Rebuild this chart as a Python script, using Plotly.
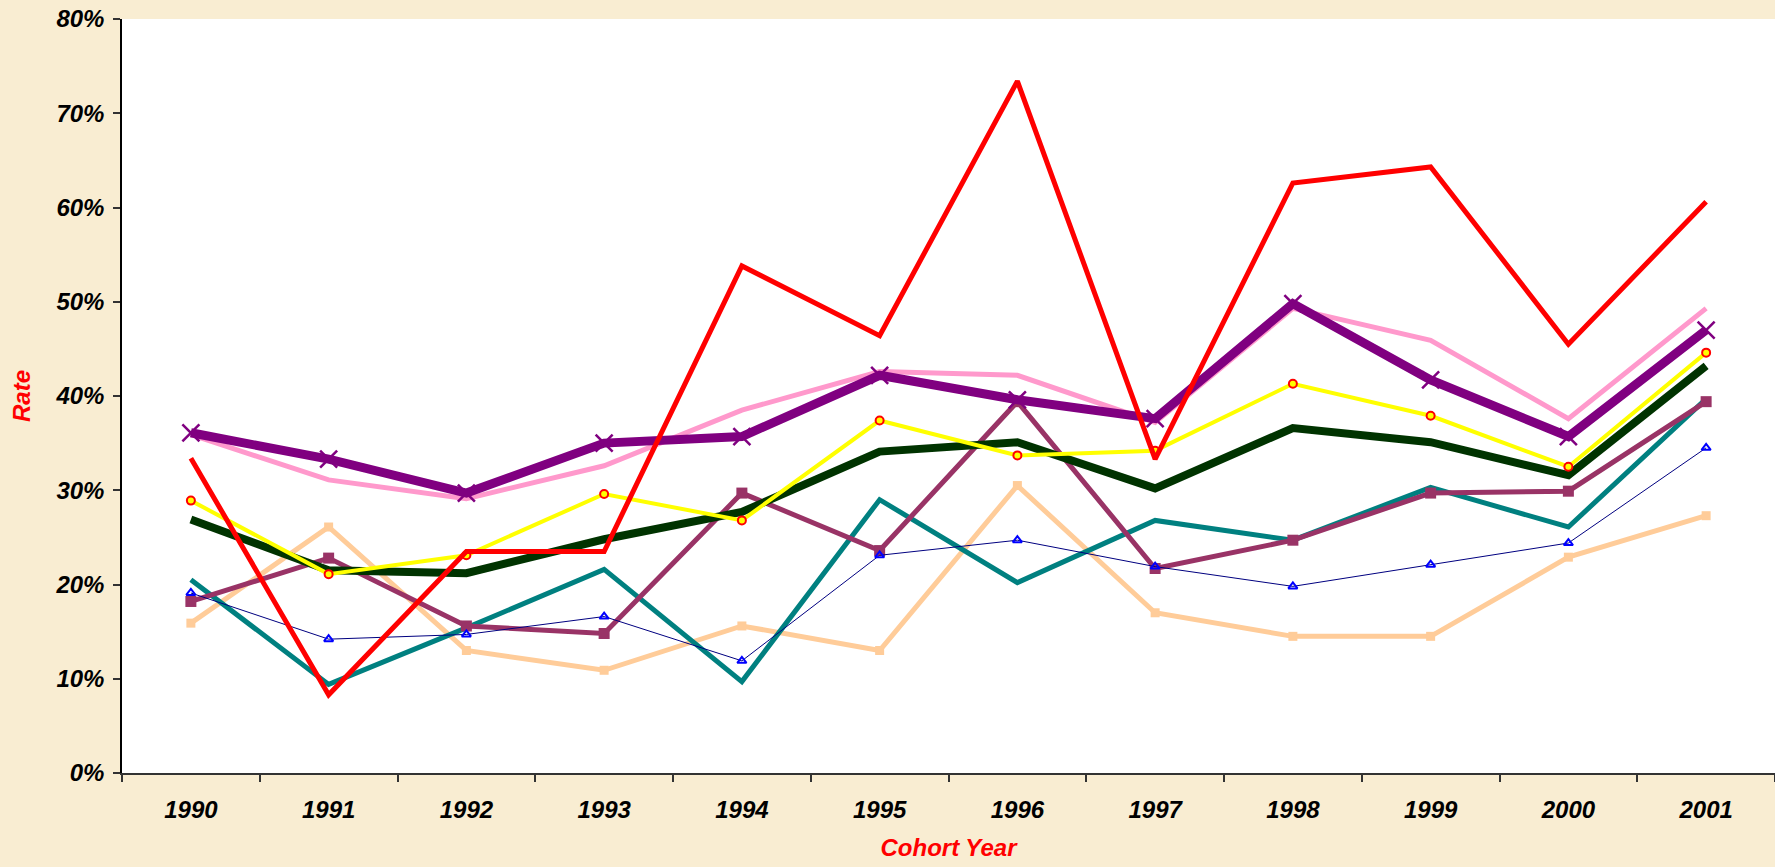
import plotly.graph_objects as go

years = ["1990", "1991", "1992", "1993", "1994", "1995", "1996", "1997", "1998", "1999", "2000", "2001"]

peach = [15.9, 26.1, 13.0, 10.9, 15.6, 13.0, 30.5, 17.0, 14.5, 14.5, 22.9, 27.3]
teal = [20.5, 9.4, 15.4, 21.6, 9.7, 29.0, 20.2, 26.8, 24.7, 30.3, 26.1, 39.7]
maroon = [18.2, 22.8, 15.6, 14.8, 29.7, 23.6, 39.4, 21.7, 24.7, 29.7, 29.9, 39.4]
navy = [19.1, 14.2, 14.7, 16.6, 11.9, 23.1, 24.7, 21.9, 19.8, 22.1, 24.4, 34.5]
green = [26.9, 21.5, 21.2, 24.8, 27.7, 34.1, 35.1, 30.2, 36.6, 35.1, 31.6, 43.2]
yellow = [28.9, 21.1, 23.1, 29.6, 26.8, 37.4, 33.7, 34.2, 41.3, 37.9, 32.5, 44.6]
pink = [35.9, 31.1, 29.1, 32.6, 38.5, 42.6, 42.2, 37.2, 49.3, 45.9, 37.6, 49.3]
purple = [36.1, 33.3, 29.7, 35.0, 35.7, 42.2, 39.6, 37.6, 49.8, 41.7, 35.7, 47.0]
red = [33.4, 8.3, 23.5, 23.5, 53.8, 46.4, 73.4, 33.3, 62.6, 64.3, 45.5, 60.6]

def pct(v):
    return [x / 100 for x in v]

fig = go.Figure()

fig.add_trace(go.Scatter(x=years, y=pct(peach), mode="lines+markers",
                         line=dict(color="#FFCC99", width=5),
                         marker=dict(symbol="square", size=9, color="#FFCC99")))
fig.add_trace(go.Scatter(x=years, y=pct(teal), mode="lines",
                         line=dict(color="#008080", width=5)))
fig.add_trace(go.Scatter(x=years, y=pct(maroon), mode="lines+markers",
                         line=dict(color="#993366", width=5),
                         marker=dict(symbol="square", size=11, color="#993366")))
fig.add_trace(go.Scatter(x=years, y=pct(navy), mode="lines+markers",
                         line=dict(color="#000080", width=1),
                         marker=dict(symbol="triangle-up-open", size=8, color="#0000FF",
                                     line=dict(width=2, color="#0000FF"))))
fig.add_trace(go.Scatter(x=years, y=pct(green), mode="lines",
                         line=dict(color="#003300", width=8)))
fig.add_trace(go.Scatter(x=years, y=pct(yellow), mode="lines+markers",
                         line=dict(color="#FFFF00", width=4),
                         marker=dict(symbol="circle", size=8, color="#FFFF00",
                                     line=dict(width=2, color="#FF0000"))))
fig.add_trace(go.Scatter(x=years, y=pct(pink), mode="lines",
                         line=dict(color="#FF99CC", width=5)))
fig.add_trace(go.Scatter(x=years, y=pct(purple), mode="lines+markers",
                         line=dict(color="#800080", width=9),
                         marker=dict(symbol="x-thin", size=17, color="#800080",
                                     line=dict(width=2.5, color="#800080"))))
fig.add_trace(go.Scatter(x=years, y=pct(red), mode="lines",
                         line=dict(color="#FF0000", width=5)))

tickfont = dict(family="Arial, Liberation Sans", size=24, color="black",
                weight="bold", style="italic")
titlefont = dict(family="Arial, Liberation Sans", size=24, color="#FF0000",
                 weight="bold", style="italic")

fig.update_layout(
    width=1775, height=867,
    margin=dict(l=122, r=0, t=19, b=94),
    paper_bgcolor="#F9EDD2",
    plot_bgcolor="white",
    showlegend=False,
)
fig.update_xaxes(
    type="category", range=[-0.5, 11.5],
    tickson="boundaries", ticks="outside", ticklen=7, tickwidth=1.5, tickcolor="#333333",
    showline=True, linecolor="#333333", linewidth=1.5,
    showgrid=False, zeroline=False,
    tickfont=tickfont, ticklabelstandoff=14,
    title=dict(text="Cohort Year", font=titlefont, standoff=18),
)
fig.update_yaxes(
    range=[0, 0.8], dtick=0.1, tickformat=".0%",
    ticks="outside", ticklen=7, tickwidth=1.5, tickcolor="#333333",
    showline=True, linecolor="black", linewidth=1.5,
    showgrid=False, zeroline=False,
    tickfont=tickfont, ticklabelstandoff=4,
    title=dict(text="Rate", font=titlefont, standoff=18),
)

fig.write_html(
    "out.html",
    config={"displayModeBar": False},
    post_script="document.body.style.margin='0';document.body.style.padding='0';"
                "document.body.style.overflow='hidden';"
                "document.documentElement.style.overflow='hidden';",
)
